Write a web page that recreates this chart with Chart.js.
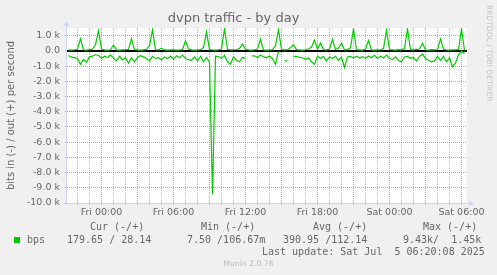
<!DOCTYPE html>
<html>
<head>
<meta charset="utf-8">
<script src="https://cdn.jsdelivr.net/npm/chart.js@4/dist/chart.umd.min.js"></script>
<style>
  html, body { margin: 0; background: #f0f0f0; }
  #wrap { position: relative; width: 497px; height: 275px; overflow: hidden; }
  #myChart { position: absolute; left: 0; top: 0; }
  .mono { position: absolute; font: 10px "DejaVu Sans Mono", monospace; color: #666; white-space: pre; line-height: 12px; }
  #side { position: absolute; left: 485px; top: 5px; font: 7.5px "DejaVu Sans", sans-serif; color: #c4c4c4;
          writing-mode: vertical-rl; white-space: pre; line-height: 9px; }
  #munin { position: absolute; left: 0; width: 497px; top: 258px; text-align: center;
           font: 7.7px "DejaVu Sans", sans-serif; color: #bbb; line-height: 12px; }
  #swatch { position: absolute; left: 14px; top: 237px; width: 6px; height: 6px; background: #00cc00; }
</style>
</head>
<body>
<div id="wrap">
  <canvas id="myChart" width="497" height="275"></canvas>
  <div id="side">RRDTOOL / TOBI OETIKER</div>
  <div id="swatch"></div>
  <div id="legend"></div>
  <div id="munin">Munin 2.0.76</div>
</div>
<script>
// samples every 15 minutes, first one Thu 21:15 (hours relative to Fri 00:00)
const startHour = -2.75;
const stepHour = 0.25;

// out (+) in bits per second
const outValues = [
  60, 50, 70, 120, 790, 60, 50, 80, 120, 400,
  1320, 90, 60, 50, 70, 380, 60, 50, 60, 70,
  90, 800, 80, 60, 50, 60, 100, 350, 1380, 70,
  60, 180, 60, 50, 60, 70, 50, 60, 80, 660,
  120, 60, 50, 60, 70, 220, 1250, 80, 60, 50,
  70, 120, 1450, 100, 60, 70, 80, 150, 460, 100,
  60, 50, 70, 120, 770, 60, 50, 60, 80, 330,
  1380, 90, 60, 70, 200, 400, 80, 60, 50, 70,
  120, 250, 700, 120, 500, 80, 60, 120, 750, 90,
  180, 500, 60, 80, 200, 1440, 70, 60, 50, 120,
  680, 60, 50, 70, 60, 150, 1340, 70, 60, 50,
  80, 60, 150, 1440, 70, 60, 100, 120, 500, 60,
  50, 80, 60, 70, 780, 90, 60, 50, 70, 60,
  120, 1440, 28
];

// in (-) in bits per second, drawn below zero
const inValues = [
  300, 420, 450, 520, 880, 560, 750, 380, 350, 260,
  300, 500, 360, 440, 280, 480, 660, 360, 600, 450,
  800, 460, 720, 450, 320, 400, 500, 660, 360, 500,
  450, 580, 400, 500, 360, 540, 320, 460, 280, 500,
  580, 620, 400, 660, 360, 720, 440, 760, 9430, 350,
  380, 500, 300, 720, 880, 400, 620, 720, 430, 500,
  null, 340, 330, 440, 280, 400, 460, 340, 520, 880,
  30, null, 660, 660, null, 370, 370, 420, 460, 560,
  460, 720, 880, 360, 500, 360, 660, 400, 500, 360,
  620, 430, 1100, 400, 360, 470, 360, 480, 380, 500,
  340, 460, 300, 500, 360, 470, 280, 500, 580, 400,
  620, 720, 400, 360, 500, 430, 680, 360, 220, 500,
  620, 720, 660, 360, 620, 360, 720, 460, 1030, 800,
  260, 8, 180
];

const xTickHours = [0, 6, 12, 18, 24, 30];
const xTickLabels = ["Fri 00:00", "Fri 06:00", "Fri 12:00", "Fri 18:00", "Sat 00:00", "Sat 06:00"];

const statHeads = ["Cur (-/+)", "Min (-/+)", "Avg (-/+)", "Max (-/+)"];
const statValues = ["179.65 / 28.14", "7.50 /106.67m", "390.95 /112.14", "9.43k/  1.45k"];
const lastUpdate = "Last update: Sat Jul  5 06:20:08 2025";

const xMin = -2.875, xMax = 30.458;
const yMin = -10000, yMax = 1500;

const MAJOR = "rgba(150, 40, 40, 0.45)";
const MINOR = "rgba(130, 130, 130, 0.55)";
const AXIS = "#cfd6f8";

// legend block under the chart
const headX = [90, 201, 313, 423];
const valX = [67, 187, 283, 403];
let html = '<div class="mono" style="left:27px;top:234px">bps</div>';
statHeads.forEach((t, i) => { html += '<div class="mono" style="left:' + headX[i] + 'px;top:221px">' + t + '</div>'; });
statValues.forEach((t, i) => { html += '<div class="mono" style="left:' + valX[i] + 'px;top:234px">' + t + '</div>'; });
html += '<div class="mono" style="left:262px;top:246px">' + lastUpdate + '</div>';
document.getElementById("legend").innerHTML = html;

function toPoints(values, sign) {
  return values.map((v, i) => ({ x: startHour + i * stepHour, y: v === null ? null : sign * v }));
}

function fmtK(v) {
  return v === 0 ? "0.0" : (v / 1000).toFixed(1) + " k";
}

const gridHours = [];
for (let h = -2; h <= 30; h++) gridHours.push(h);
const gridValues = [];
for (let v = yMin; v <= yMax; v += 500) gridValues.push(v);

const rrdFrame = {
  id: "rrdFrame",
  beforeDraw(chart) {
    const { ctx, chartArea: a } = chart;
    ctx.save();
    ctx.fillStyle = "#ffffff";
    ctx.fillRect(a.left, a.top, a.right - a.left, a.bottom - a.top);
    ctx.restore();
  },
  beforeDatasetsDraw(chart) {
    const { ctx, chartArea: a, scales } = chart;
    const y0 = Math.round(scales.y.getPixelForValue(0));
    ctx.save();
    ctx.strokeStyle = "#000";
    ctx.lineWidth = 2;
    ctx.beginPath();
    ctx.moveTo(a.left, y0);
    ctx.lineTo(a.right, y0);
    ctx.stroke();
    ctx.restore();
  },
  afterDatasetsDraw(chart) {
    const { ctx, chartArea: a } = chart;
    const bx = a.left - 0.5, by = a.bottom + 0.5;
    ctx.save();
    ctx.strokeStyle = AXIS;
    ctx.fillStyle = AXIS;
    ctx.lineWidth = 1;
    ctx.beginPath();
    ctx.moveTo(bx, by); ctx.lineTo(a.right + 3, by);
    ctx.moveTo(bx, by); ctx.lineTo(bx, a.top - 3);
    ctx.stroke();
    ctx.beginPath();
    ctx.moveTo(a.right + 7, by); ctx.lineTo(a.right + 2, by - 3); ctx.lineTo(a.right + 2, by + 3);
    ctx.fill();
    ctx.beginPath();
    ctx.moveTo(bx, a.top - 7); ctx.lineTo(bx - 3, a.top - 2); ctx.lineTo(bx + 3, a.top - 2);
    ctx.fill();
    ctx.restore();
  }
};

Chart.defaults.font.family = '"DejaVu Sans", sans-serif';
Chart.defaults.color = "#666";

const ctx = document.getElementById("myChart").getContext("2d");
new Chart(ctx, {
  type: "line",
  data: {
    datasets: [
      { label: "out", data: toPoints(outValues, 1), borderColor: "#00cc00", borderWidth: 1.2,
        pointRadius: 0, tension: 0, spanGaps: false },
      { label: "in", data: toPoints(inValues, -1), borderColor: "#00cc00", borderWidth: 1.2,
        pointRadius: 0, tension: 0, spanGaps: false }
    ]
  },
  options: {
    responsive: false,
    animation: false,
    events: [],
    layout: { padding: { top: 0, right: 30, bottom: 52, left: 0 } },
    plugins: {
      legend: { display: false },
      tooltip: { enabled: false },
      title: {
        display: true,
        text: "dvpn traffic - by day",
        color: "#666",
        font: { size: 13, weight: "normal" },
        padding: { top: 11, bottom: 1.4 }
      }
    },
    scales: {
      x: {
        type: "linear",
        min: xMin,
        max: xMax,
        afterBuildTicks: (s) => { s.ticks = gridHours.map((h) => ({ value: h })); },
        afterFit: (s) => { s.height = 20; },
        ticks: {
          autoSkip: false,
          maxRotation: 0,
          padding: 2,
          color: "#666",
          font: { size: 9.5 },
          callback: (v) => {
            const k = xTickHours.indexOf(v);
            return k >= 0 ? xTickLabels[k] : "";
          }
        },
        grid: {
          color: (c) => (c.tick && c.tick.value % 3 === 0 ? MAJOR : MINOR),
          tickColor: (c) => (c.tick && c.tick.value % 3 === 0 ? MAJOR : MINOR),
          tickLength: 2
        },
        border: { display: false, dash: [1, 1] }
      },
      y: {
        type: "linear",
        min: yMin,
        max: yMax,
        afterBuildTicks: (s) => { s.ticks = gridValues.map((v) => ({ value: v })); },
        afterFit: (s) => { s.width = 67; },
        ticks: {
          padding: 5,
          color: "#666",
          font: { size: 9.5 },
          callback: (v) => (v % 1000 === 0 ? fmtK(v) : "")
        },
        grid: {
          color: (c) => (!c.tick || c.tick.value === yMin ? "rgba(0,0,0,0)" : (c.tick.value % 1000 === 0 ? MAJOR : MINOR)),
          tickColor: (c) => (c.tick && c.tick.value % 1000 === 0 ? MAJOR : MINOR),
          tickLength: 2
        },
        border: { display: false, dash: [1, 1] },
        title: {
          display: true,
          text: "bits in (-) / out (+) per second",
          color: "#666",
          font: { size: 10 },
          padding: { top: 5.5, bottom: 0 }
        }
      }
    }
  },
  plugins: [rrdFrame]
});
</script>
</body>
</html>
